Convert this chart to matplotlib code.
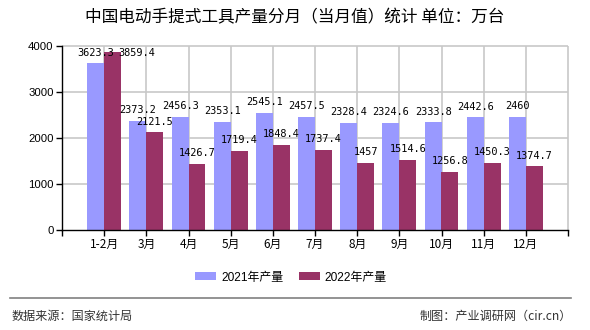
import matplotlib.pyplot as plt
import numpy as np

months = ['1-2月', '3月', '4月', '5月', '6月', '7月', '8月', '9月', '10月', '11月', '12月']
prod_2021 = [3623.3, 2373.2, 2456.3, 2353.1, 2545.1, 2457.5, 2328.4, 2324.6, 2333.8, 2442.6, 2460]
prod_2022 = [3859.4, 2121.5, 1426.7, 1719.4, 1848.4, 1737.4, 1457, 1514.6, 1256.8, 1450.3, 1374.7]

cjk = ['Noto Sans CJK SC', 'DejaVu Sans']
latin = ['Liberation Sans', 'Noto Sans CJK SC']

fig = plt.figure(figsize=(5.9, 3.3), dpi=100)
ax = fig.add_axes([62 / 590, 1 - 229.5 / 330, 506 / 590, 183.5 / 330])

x = np.arange(len(months))
w = 0.4
ax.bar(x - w / 2, prod_2021, w, color='#9999FF', label='2021年产量', zorder=3)
ax.bar(x + w / 2, prod_2022, w, color='#993366', label='2022年产量', zorder=3)

ax.set_xlim(-1, len(months))
ax.set_ylim(0, 4000)

# value labels
for i in range(len(months)):
    ax.annotate('%g' % prod_2021[i], (x[i] - w / 2, prod_2021[i]), xytext=(0, 4),
                textcoords='offset points', ha='center', va='bottom',
                fontsize=7.4, family='DejaVu Sans Mono', zorder=4)
    v = prod_2022[i]
    if v > 3700:
        # no room above the top: put it beside the bar
        ax.annotate('%g' % v, (x[i] + w, prod_2021[i]), xytext=(-2, 4),
                    textcoords='offset points', ha='left', va='bottom',
                    fontsize=7.4, family='DejaVu Sans Mono', zorder=4)
    else:
        ax.annotate('%g' % v, (x[i] + w / 2, v), xytext=(0, 4),
                    textcoords='offset points', ha='center', va='bottom',
                    fontsize=7.4, family='DejaVu Sans Mono', zorder=4)

xt = np.arange(-1, len(months) + 1)
ax.set_xticks(xt)
ax.set_xticklabels([''] + months + [''], family=cjk, fontsize=8.5)
ax.set_yticks([0, 1000, 2000, 3000, 4000])
ax.set_yticklabels(['0', '1000', '2000', '3000', '4000'], family=latin, fontsize=8.2)
ax.tick_params(axis='both', length=4, width=1, color='black', pad=2)

# grid
ax.vlines(xt[1:], 0, 4000, colors='#c8c8c8', linewidth=1.2, zorder=1, clip_on=False)
ax.hlines([1000, 2000, 3000, 4000], -1, len(months), colors='#c8c8c8', linewidth=1.2, zorder=1, clip_on=False)
for s in ['top', 'right']:
    ax.spines[s].set_visible(False)
for s in ['left', 'bottom']:
    ax.spines[s].set_color('black')
    ax.spines[s].set_linewidth(1)
    ax.spines[s].set_zorder(5)

fig.text(0.5, 1 - 17.7 / 330, '中国电动手提式工具产量分月（当月值）统计 单位：万台',
         ha='center', va='center', fontsize=12, family=cjk)

fig.legend(loc='center', bbox_to_anchor=(291 / 590, 1 - 277.5 / 330), ncol=2, frameon=False,
           prop={'family': latin, 'size': 8.6}, handlelength=1.75, handleheight=0.65,
           handletextpad=0.4, columnspacing=1.3)

fig.add_artist(plt.Line2D([10 / 590, 571 / 590], [1 - 297.5 / 330] * 2, color='#808080', linewidth=1.2))
fig.text(12 / 590, 1 - 316 / 330, '数据来源：国家统计局', ha='left', va='center', fontsize=8.7, family=cjk, color='#333333')
fig.text(572 / 590, 1 - 316 / 330, '制图：产业调研网（cir.cn）', ha='right', va='center', fontsize=8.7, family=cjk, color='#333333')

fig.savefig('out.png', dpi=100)
